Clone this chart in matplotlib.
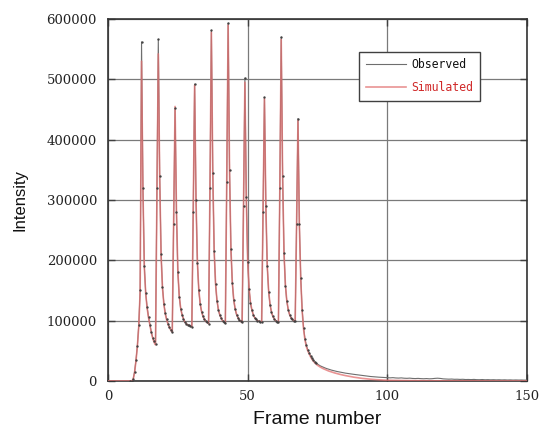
import numpy as np
import matplotlib
matplotlib.use("Agg")
import matplotlib.pyplot as plt

# sampling grid: half-frame steps across the pulse train, whole frames elsewhere
frames = np.concatenate([np.arange(0, 8), np.arange(8, 75, 0.5), np.arange(75, 151)])

observed = [
    0, 0, 0, 0, 0, 0, 0, 0,
    # 8.0 - 11.5 onset
    0, 0, 3000, 15000, 34000, 58000, 92000, 150000,
    # pulse at 12
    562000, 320000, 190000, 145000, 122000, 106000, 93000, 81000, 72000, 66000, 62000, 320000,
    # pulse at 18
    566000, 340000, 210000, 155000, 128000, 112000, 102000, 95000, 89000, 85000, 82000, 260000,
    # pulse at 24
    452000, 280000, 180000, 140000, 120000, 110000, 103000, 98000, 95000, 93000, 92000, 91000, 90000, 280000,
    # pulse at 31
    492000, 300000, 195000, 150000, 127000, 115000, 107000, 102000, 99000, 97000, 95000, 320000,
    # pulse at 37
    581000, 345000, 215000, 160000, 133000, 118000, 109000, 104000, 100000, 98000, 96000, 330000,
    # pulse at 43
    593000, 350000, 218000, 162000, 134000, 119000, 110000, 105000, 101000, 99000, 97000, 290000,
    # pulse at 49
    502000, 305000, 198000, 152000, 129000, 117000, 110000, 105000, 102000, 100000, 99000, 98500, 98000, 280000,
    # pulse at 56
    470000, 290000, 190000, 148000, 126000, 114000, 107000, 103000, 100000, 98000, 97000, 320000,
    # pulse at 62
    570000, 340000, 212000, 158000, 132000, 118000, 110000, 105000, 102000, 100000, 99000, 260000,
    # pulse at 68 and start of the washout
    435000, 260000, 170000, 118000, 88000, 70000, 59000, 52000, 47000, 42000, 38000, 35000, 32000, 30000,
    # 75 - 99
    28000, 25000, 23000, 21000, 19500, 18000, 16800, 15700, 14800, 14000,
    13000, 12300, 11600, 11000, 10400, 9800, 9300, 8600, 8000, 7400,
    7000, 6600, 6300, 6000, 5600,
    # 100 - 150
    5400, 5200, 5500, 5000, 4800, 5100, 4600, 4400, 4700, 4200, 4000,
    4300, 3900, 3700, 4000, 3600, 3800, 4300, 4600, 4200, 3500,
    3300, 3000, 3200, 2800, 2900, 2600, 2800, 2400, 2500, 2300,
    2600, 2200, 2100, 2400, 2000, 2200, 1900, 2100, 1800, 2000,
    1700, 1900, 1600, 1800, 1500, 1700, 1500, 1600, 1400, 1500,
]

simulated = [
    0, 0, 0, 0, 0, 0, 0, 0,
    0, 0, 2500, 14000, 33000, 57000, 90000, 148000,
    530000, 315000, 188000, 144000, 121000, 105000, 92000, 80000, 71000, 64000, 60000, 310000,
    542000, 335000, 208000, 154000, 127000, 111000, 101000, 94000, 88000, 84000, 81000, 262000,
    455000, 282000, 181000, 141000, 121000, 110000, 103000, 98000, 95000, 93000, 92000, 91000, 90000, 282000,
    490000, 300000, 196000, 151000, 128000, 115000, 107000, 102000, 99000, 97000, 95000, 322000,
    578000, 344000, 216000, 161000, 134000, 119000, 110000, 104000, 100000, 98000, 96000, 332000,
    590000, 348000, 219000, 163000, 135000, 120000, 111000, 105000, 101000, 99000, 97000, 288000,
    495000, 302000, 198000, 153000, 130000, 118000, 110000, 105000, 102000, 100000, 99000, 98500, 98000, 282000,
    468000, 290000, 191000, 149000, 127000, 115000, 107000, 103000, 100000, 98000, 97000, 318000,
    566000, 338000, 213000, 159000, 133000, 119000, 110000, 105000, 102000, 100000, 99000, 258000,
    432000, 258000, 168000, 116000, 86000, 68000, 57000, 50000, 45000, 40000, 36000, 33000, 30000, 28000,
    26000, 23000, 20500, 18500, 16500, 15000, 13500, 12200, 11000, 9900,
    8900, 8000, 7100, 6300, 5600, 4900, 4300, 3800, 3300, 2900,
    2500, 2200, 1900, 1600, 1400,
    1200, 1100, 1000, 900, 800, 750, 700, 650, 600, 550, 500,
    470, 440, 410, 380, 360, 340, 320, 300, 280, 260,
    250, 240, 230, 220, 210, 200, 190, 180, 170, 160,
    155, 150, 145, 140, 135, 130, 125, 120, 115, 110,
    105, 100, 95, 90, 85, 80, 75, 70, 65, 60,
]

x_ticks = [0, 50, 100, 150]
y_ticks = [0, 100000, 200000, 300000, 400000, 500000, 600000]

fig = plt.figure(figsize=(5.42, 4.30), dpi=100)
ax = fig.add_axes([0.1993, 0.114, 0.7731, 0.8419])

l_obs, = ax.plot(frames, observed, color="#6e6e6e", lw=0.8, zorder=3, label="Observed")
l_sim, = ax.plot(frames, simulated, color="#e27070", lw=1.2, alpha=0.75, zorder=4, label="Simulated")
# sample dots only over the pulse train
ax.plot(frames, observed, ls="none", marker=".", ms=1.4, color="#404040", zorder=5,
        markevery=slice(8, 142))

ax.set_xlim(0, 150)
ax.set_ylim(0, 600000)
ax.set_xticks(x_ticks)
ax.set_xticklabels([str(v) for v in x_ticks], fontfamily="DejaVu Serif", fontsize=9.5, color="#222222")
ax.set_yticks(y_ticks)
ax.set_yticklabels([str(v) for v in y_ticks], fontfamily="DejaVu Serif", fontsize=9.5, color="#222222")

ax.grid(True, color="#7a7a7a", lw=0.9)
ax.set_axisbelow(True)
ax.tick_params(direction="in", length=5, width=1, top=True, right=True, color="#404040")
ax.tick_params(axis="x", pad=6.5)
ax.tick_params(axis="y", pad=8)
for s in ax.spines.values():
    s.set_color("#333333")
    s.set_linewidth(1.2)

ax.set_xlabel("Frame number", fontsize=14, fontfamily="Liberation Sans", color="#111111")
ax.xaxis.set_label_coords(0.5, -0.083)
ax.set_ylabel("Intensity", fontsize=12, fontfamily="Liberation Sans", color="#111111")
ax.yaxis.set_label_coords(-0.192, 0.5)

leg = ax.legend(handles=[l_obs, l_sim], loc="upper left", bbox_to_anchor=(0.600, 0.910),
                borderaxespad=0, fancybox=False, edgecolor="#404040", framealpha=1,
                prop={"family": "DejaVu Sans Mono", "size": 8.3}, handlelength=3.4,
                handletextpad=0.5, labelspacing=0.85, borderpad=0.6,
                labelcolor=["#111111", "#d02828"])
leg.get_frame().set_linewidth(1.0)

fig.savefig("out.png", dpi=100)
